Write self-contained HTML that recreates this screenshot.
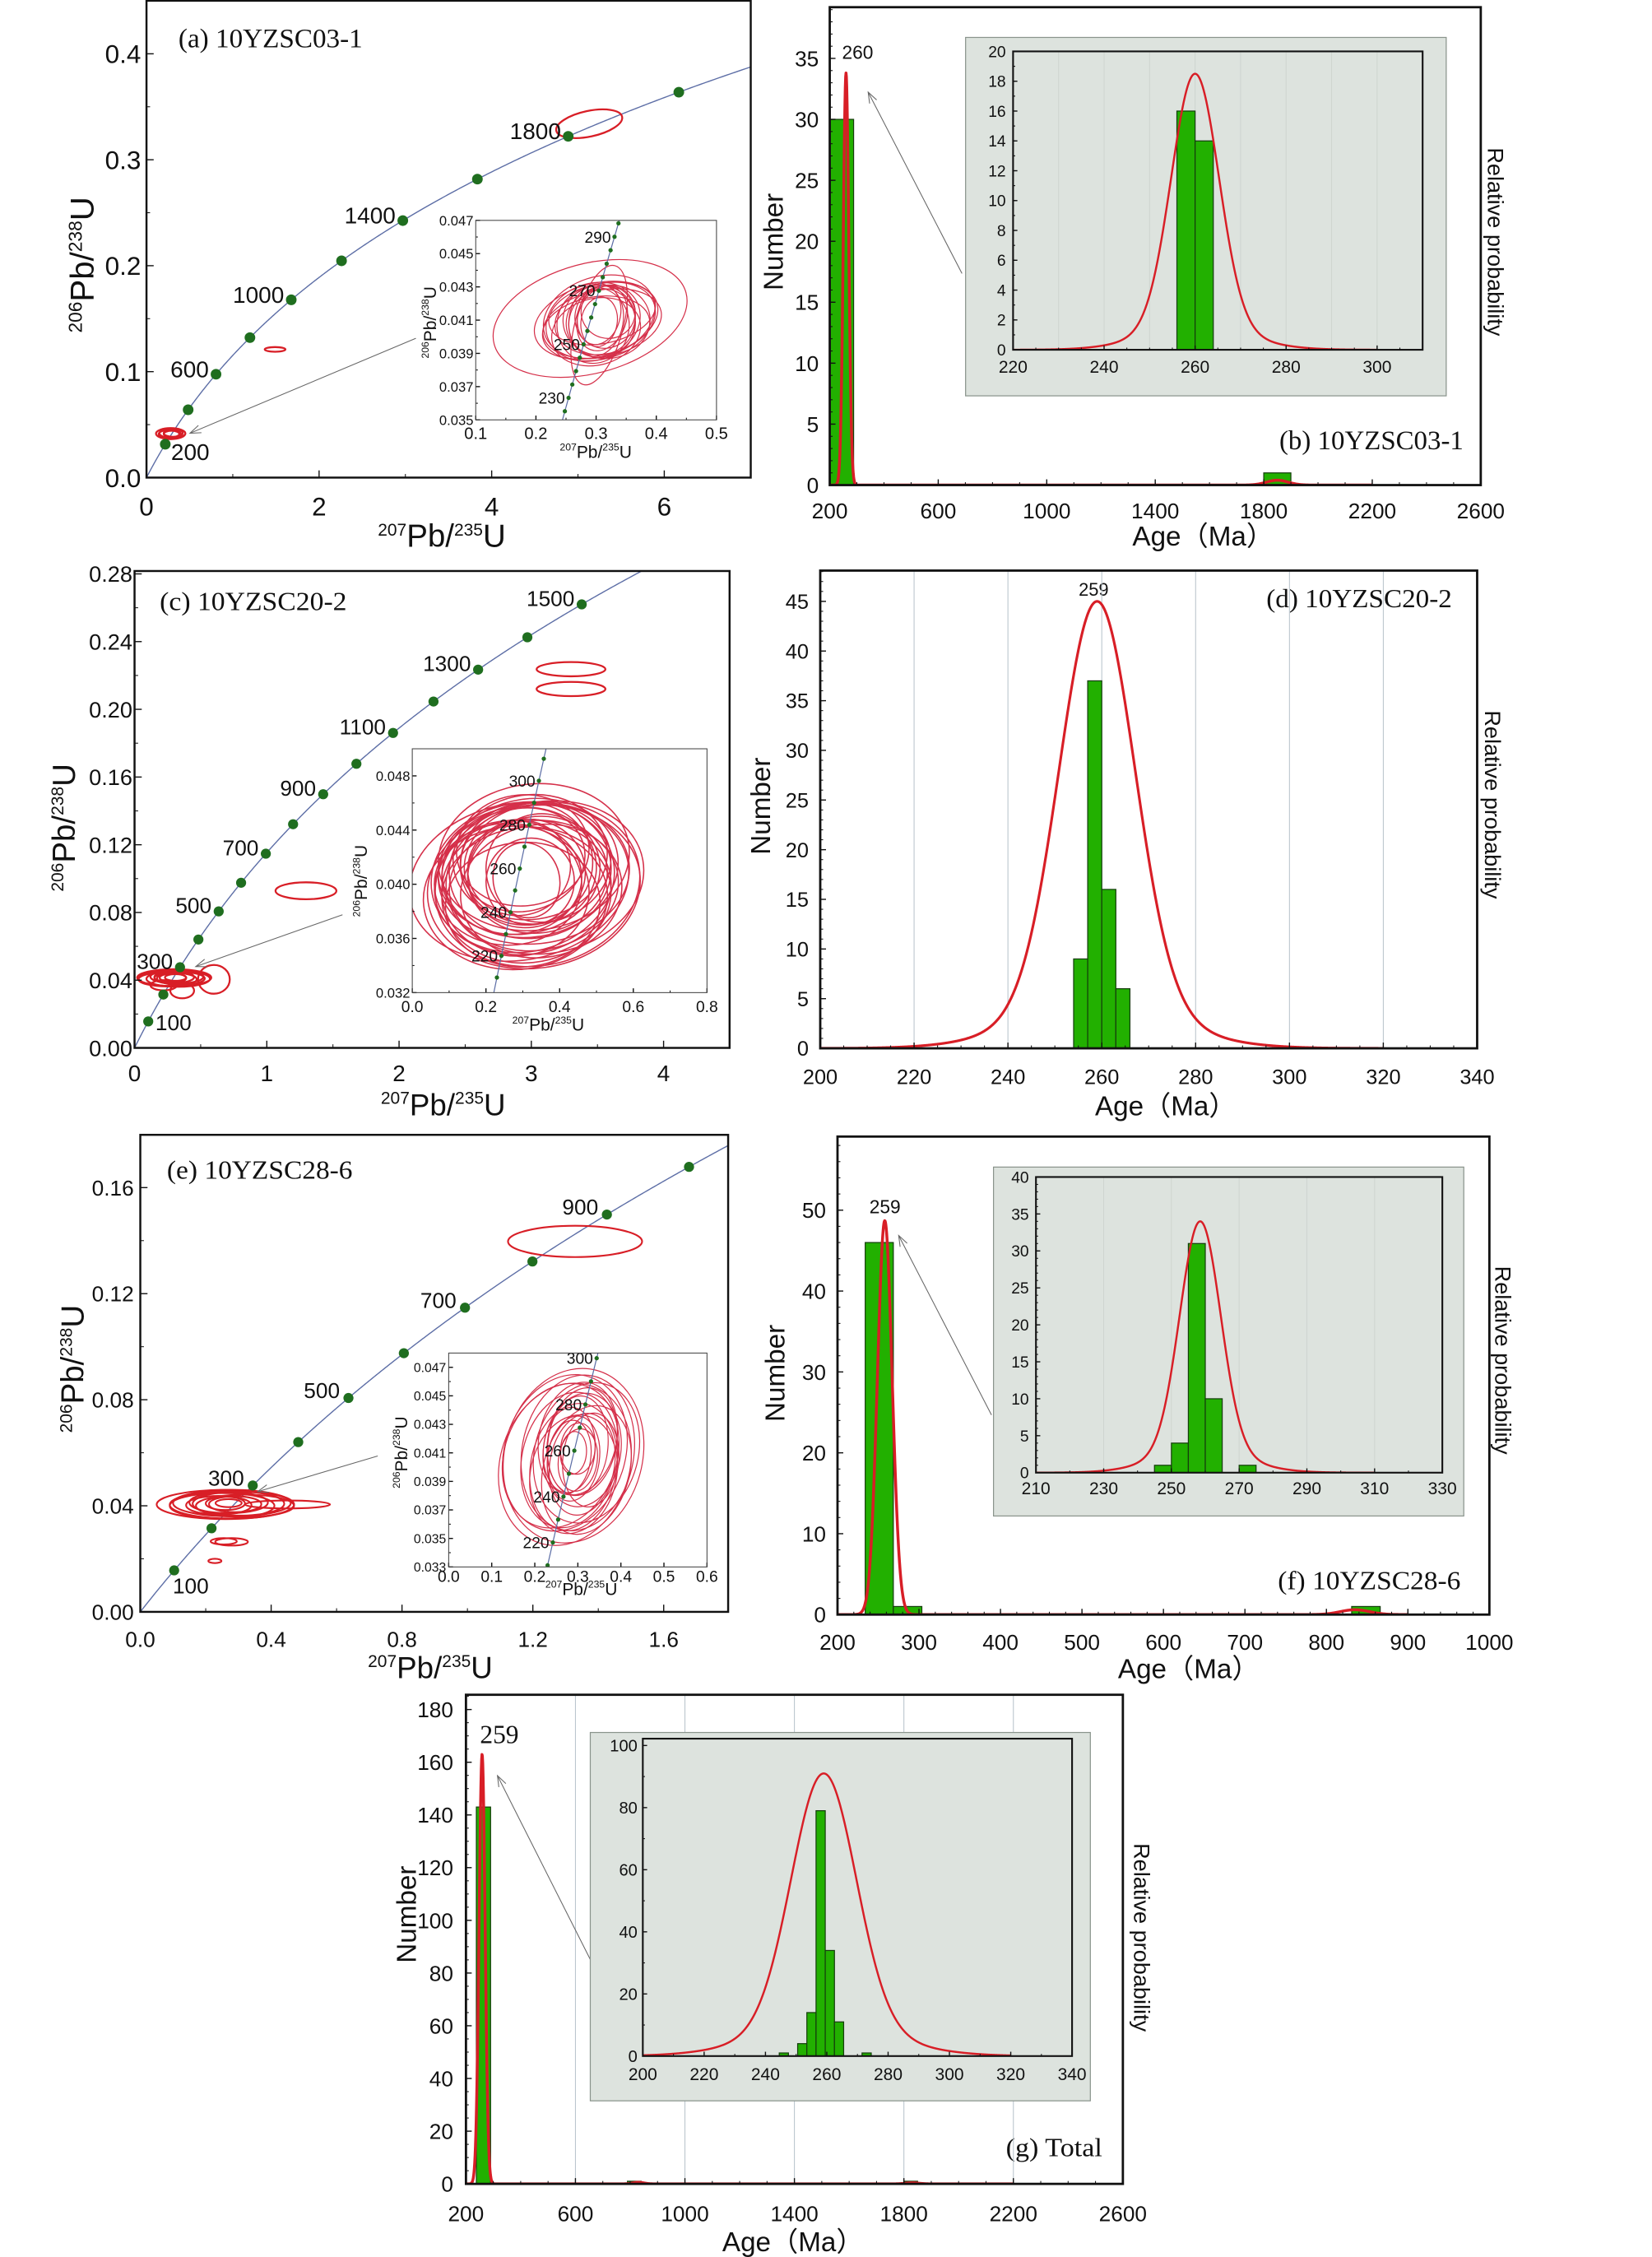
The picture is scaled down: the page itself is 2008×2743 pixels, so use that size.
<!DOCTYPE html>
<html><head><meta charset="utf-8">
<style>
html,body{margin:0;padding:0;background:#fff;}
svg{display:block;}
text{font-family:"Liberation Sans",sans-serif;fill:#111;}
.serif{font-family:"Liberation Serif",serif;}
</style></head>
<body>
<svg id="fig" xmlns="http://www.w3.org/2000/svg" width="2008" height="2743" viewBox="0 0 1148 1568" preserveAspectRatio="none">
<rect x="0" y="0" width="1148" height="1568" fill="#fff"/>
<g id="static-text">
<text class="serif" x="124" y="33" font-size="19" textLength="128" lengthAdjust="spacingAndGlyphs">(a) 10YZSC03-1</text>
<text x="307" y="380" font-size="22" text-anchor="middle"><tspan font-size="12" dy="-8">207</tspan><tspan dy="8">Pb/</tspan><tspan font-size="12" dy="-8">235</tspan><tspan dy="8">U</tspan></text>
<text x="65" y="184" font-size="23" text-anchor="middle" transform="rotate(-90 65 184)"><tspan font-size="13" dy="-8">206</tspan><tspan dy="8">Pb/</tspan><tspan font-size="13" dy="-8">238</tspan><tspan dy="8">U</tspan></text>
<text x="414" y="318" font-size="12" text-anchor="middle"><tspan font-size="7" dy="-5">207</tspan><tspan dy="5">Pb/</tspan><tspan font-size="7" dy="-5">235</tspan><tspan dy="5">U</tspan></text>
<text x="303" y="224" font-size="12" text-anchor="middle" transform="rotate(-90 303 224)"><tspan font-size="7" dy="-5">206</tspan><tspan dy="5">Pb/</tspan><tspan font-size="7" dy="-5">238</tspan><tspan dy="5">U</tspan></text>
<text class="serif" x="889" y="312" font-size="19" textLength="128" lengthAdjust="spacingAndGlyphs">(b) 10YZSC03-1</text>
<text x="836" y="379" font-size="19" text-anchor="middle">Age（Ma）</text>
<text x="544" y="168" font-size="19" text-anchor="middle" transform="rotate(-90 544 168)">Number</text>
<text x="1034" y="168" font-size="15.5" text-anchor="middle" transform="rotate(90 1034 168)">Relative probability</text>
<text x="596" y="41" font-size="13" text-anchor="middle">260</text>
<text x="843" y="271" font-size="11.5" text-anchor="middle">Age（Ma）</text>
<text x="684" y="134" font-size="11.5" text-anchor="middle" transform="rotate(-90 684 134)">Number</text>
<text x="993" y="144" font-size="11.5" text-anchor="middle" transform="rotate(90 993 144)">Relative probability</text>
<text x="832" y="50" font-size="13" text-anchor="middle">260</text>
<text class="serif" x="111" y="424" font-size="18" textLength="130" lengthAdjust="spacingAndGlyphs">(c) 10YZSC20-2</text>
<text x="308" y="775" font-size="21" text-anchor="middle"><tspan font-size="12" dy="-8">207</tspan><tspan dy="8">Pb/</tspan><tspan font-size="12" dy="-8">235</tspan><tspan dy="8">U</tspan></text>
<text x="52" y="575" font-size="22" text-anchor="middle" transform="rotate(-90 52 575)"><tspan font-size="12" dy="-8">206</tspan><tspan dy="8">Pb/</tspan><tspan font-size="12" dy="-8">238</tspan><tspan dy="8">U</tspan></text>
<text x="381" y="716" font-size="12" text-anchor="middle"><tspan font-size="7" dy="-5">207</tspan><tspan dy="5">Pb/</tspan><tspan font-size="7" dy="-5">235</tspan><tspan dy="5">U</tspan></text>
<text x="255" y="612" font-size="12" text-anchor="middle" transform="rotate(-90 255 612)"><tspan font-size="7" dy="-5">206</tspan><tspan dy="5">Pb/</tspan><tspan font-size="7" dy="-5">238</tspan><tspan dy="5">U</tspan></text>
<text class="serif" x="880" y="422" font-size="18" textLength="129" lengthAdjust="spacingAndGlyphs">(d) 10YZSC20-2</text>
<text x="810" y="775" font-size="19" text-anchor="middle">Age（Ma）</text>
<text x="535" y="560" font-size="19" text-anchor="middle" transform="rotate(-90 535 560)">Number</text>
<text x="1032" y="559" font-size="15.5" text-anchor="middle" transform="rotate(90 1032 559)">Relative probability</text>
<text x="760" y="414" font-size="12.5" text-anchor="middle">259</text>
<text class="serif" x="116" y="819" font-size="18" textLength="129" lengthAdjust="spacingAndGlyphs">(e) 10YZSC28-6</text>
<text x="299" y="1166" font-size="21" text-anchor="middle"><tspan font-size="12" dy="-8">207</tspan><tspan dy="8">Pb/</tspan><tspan font-size="12" dy="-8">235</tspan><tspan dy="8">U</tspan></text>
<text x="58" y="951" font-size="22" text-anchor="middle" transform="rotate(-90 58 951)"><tspan font-size="12" dy="-8">206</tspan><tspan dy="8">Pb/</tspan><tspan font-size="12" dy="-8">238</tspan><tspan dy="8">U</tspan></text>
<text x="404" y="1108" font-size="12" text-anchor="middle"><tspan font-size="7" dy="-5">207</tspan><tspan dy="5">Pb/</tspan><tspan font-size="7" dy="-5">235</tspan><tspan dy="5">U</tspan></text>
<text x="283" y="1009" font-size="12" text-anchor="middle" transform="rotate(-90 283 1009)"><tspan font-size="7" dy="-5">206</tspan><tspan dy="5">Pb/</tspan><tspan font-size="7" dy="-5">238</tspan><tspan dy="5">U</tspan></text>
<text class="serif" x="888" y="1104" font-size="18" textLength="127" lengthAdjust="spacingAndGlyphs">(f) 10YZSC28-6</text>
<text x="826" y="1166" font-size="19" text-anchor="middle">Age（Ma）</text>
<text x="545" y="954" font-size="19" text-anchor="middle" transform="rotate(-90 545 954)">Number</text>
<text x="1039" y="945" font-size="15.5" text-anchor="middle" transform="rotate(90 1039 945)">Relative probability</text>
<text x="615" y="843" font-size="13" text-anchor="middle">259</text>
<text x="861" y="1049" font-size="11.5" text-anchor="middle">Age（Ma）</text>
<text x="700" y="926" font-size="11.5" text-anchor="middle" transform="rotate(-90 700 926)">Number</text>
<text x="1004" y="922" font-size="11.5" text-anchor="middle" transform="rotate(90 1004 922)">Relative probability</text>
<text x="833" y="845" font-size="13" text-anchor="middle">259</text>
<text class="serif" x="699" y="1498" font-size="18" textLength="67" lengthAdjust="spacingAndGlyphs">(g) Total</text>
<text x="551" y="1564" font-size="19" text-anchor="middle">Age（Ma）</text>
<text x="289" y="1330" font-size="19" text-anchor="middle" transform="rotate(-90 289 1330)">Number</text>
<text x="788" y="1346" font-size="15.5" text-anchor="middle" transform="rotate(90 788 1346)">Relative probability</text>
<text class="serif" x="347" y="1211" font-size="18" text-anchor="middle">259</text>
<text x="586" y="1457" font-size="11.5" text-anchor="middle">Age（Ma）</text>
<text x="420" y="1323" font-size="11.5" text-anchor="middle" transform="rotate(-90 420 1323)">Number</text>
<text x="747" y="1323" font-size="11.5" text-anchor="middle" transform="rotate(90 747 1323)">Relative probability</text>
<text class="serif" x="573" y="1227" font-size="18" text-anchor="middle">259</text>
</g>
</svg>
<script>
const L238 = 1.55125e-4, L235 = 9.8485e-4;

const aDotAges = [200,400,600,800,1000,1200,1400,1600,1800,2000];
const aLabelAges = ['200','600','1000','1400','1800'];
const aXTicks = ['0','2','4','6'];
const aYTicks = ['0.0','0.1','0.2','0.3','0.4'];
const aEllCx = [5.13,1.49,0.28,0.30,0.27,0.31,0.29];
const aEllCy = [0.334,0.121,0.0415,0.0418,0.041,0.042,0.0412];
const aEllRx = [0.39,0.12,0.17,0.15,0.13,0.11,0.09];
const aEllRy = [0.0121,0.0022,0.0052,0.0045,0.004,0.0035,0.003];
const aEllRot = [-12,0,0,0,0,0,0];
const aInDotAges = [225,230,235,240,245,250,255,260,265,270,275,280,285,290,295];
const aInLabelAges = ['230','250','270','290'];
const aInXTicks = ['0.1','0.2','0.3','0.4','0.5'];
const aInYTicks = ['0.035','0.037','0.039','0.041','0.043','0.045','0.047'];
const aInCx = [0.29,0.305,0.30,0.31,0.305,0.30,0.315,0.295,0.31,0.30,0.32,0.305,0.305,0.31,0.30,0.315,0.31,0.305,0.295,0.32];
const aInCy = [0.0411,0.0407,0.0410,0.0408,0.0412,0.0405,0.0411,0.0409,0.0414,0.0403,0.0409,0.0410,0.0413,0.0411,0.0410,0.0412,0.0408,0.0409,0.0407,0.0415];
const aInRx = [0.165,0.04,0.105,0.10,0.095,0.09,0.085,0.08,0.09,0.075,0.07,0.06,0.035,0.04,0.045,0.05,0.055,0.03,0.06,0.045];
const aInRy = [0.0033,0.0037,0.0022,0.0020,0.0024,0.0019,0.0021,0.0023,0.0018,0.0020,0.0022,0.0021,0.0018,0.0020,0.0022,0.0019,0.0021,0.0015,0.0023,0.0016];
const aInRot = [-15,15,-15,-12,-18,-10,-15,-20,-12,-15,-10,-5,15,20,10,15,20,10,5,15];

const bXTicks = ['200','600','1000','1400','1800','2200','2600'];
const bYTicks = ['0','5','10','15','20','25','30','35'];
const bBinStart = [200,1800];
const bBinEnd = [288,1900];
const bCounts = [30,1];
const bPeakAge = [260,1850];
const bPeakAmp = [33.8,0.4];
const bPeakSig = [10,40];
const bInXTicks = ['220','240','260','280','300'];
const bInYTicks = ['0','2','4','6','8','10','12','14','16','18','20'];
const bInBinStart = [256,260];
const bInBinEnd = [260,264];
const bInCounts = [16,14];
const bInPeakAge = [260,260];
const bInPeakAmp = [17,1.5];
const bInPeakSig = [5.2,11];

const cDotAges = [100,200,300,400,500,600,700,800,900,1000,1100,1200,1300,1400,1500];
const cLabelAges = ['100','300','500','700','900','1100','1300','1500'];
const cXTicks = ['0','1','2','3','4'];
const cYTicks = ['0.00','0.04','0.08','0.12','0.16','0.20','0.24','0.28'];
const cEllCx = [0.30,0.28,0.32,0.25,0.35,0.30,0.27,0.33,0.29,0.31,0.60,0.36,0.22,1.296,3.30,3.30];
const cEllCy = [0.0415,0.041,0.042,0.0405,0.041,0.0418,0.0412,0.0408,0.0414,0.0416,0.0405,0.0338,0.037,0.0928,0.2237,0.212];
const cEllRx = [0.28,0.25,0.20,0.22,0.18,0.15,0.12,0.24,0.10,0.08,0.12,0.09,0.10,0.23,0.26,0.26];
const cEllRy = [0.005,0.0045,0.004,0.0042,0.0038,0.0035,0.003,0.0047,0.0025,0.002,0.0085,0.0045,0.003,0.005,0.0042,0.0042];
const cInDotAges = [210,220,230,240,250,260,270,280,290,300,310];
const cInLabelAges = ['220','240','260','280','300'];
const cInXTicks = ['0.0','0.2','0.4','0.6','0.8'];
const cInYTicks = ['0.032','0.036','0.040','0.044','0.048'];
const cInCx = [0.30,0.32,0.34,0.28,0.31,0.33,0.29,0.35,0.30,0.32,0.27,0.36,0.31,0.30,0.33,0.29,0.34,0.32,0.28,0.31,0.30,0.35,0.33,0.26,0.32,0.30,0.31,0.34,0.29,0.33];
const cInCy = [0.0405,0.0410,0.0400,0.0395,0.0415,0.0408,0.0402,0.0412,0.0398,0.0420,0.0405,0.0405,0.0392,0.0418,0.0398,0.0410,0.0415,0.0402,0.0390,0.0408,0.0425,0.0395,0.0420,0.0400,0.0412,0.0385,0.0403,0.0407,0.0412,0.0399];
const cInRx = [0.25,0.22,0.28,0.20,0.18,0.26,0.30,0.15,0.24,0.21,0.19,0.27,0.23,0.17,0.29,0.22,0.20,0.12,0.25,0.16,0.18,0.22,0.26,0.20,0.24,0.21,0.09,0.19,0.14,0.23];
const cInRy = [0.0055,0.0050,0.0060,0.0048,0.0045,0.0052,0.0058,0.0040,0.0050,0.0046,0.0042,0.0056,0.0050,0.0038,0.0060,0.0047,0.0044,0.0032,0.0053,0.0040,0.0041,0.0049,0.0054,0.0045,0.0051,0.0046,0.0028,0.0043,0.0035,0.0048];
const cInRot = [-10,-5,-12,0,-8,-6,-10,-15,-4,-8,0,-10,-6,-12,-8,-5,-10,-20,-3,-8,-5,-10,-7,0,-9,-4,-15,-8,-12,-6];

const dXTicks = ['200','220','240','260','280','300','320','340'];
const dYTicks = ['0','5','10','15','20','25','30','35','40','45'];
const dBinStart = [254,257,260,263];
const dBinEnd = [257,260,263,266];
const dCounts = [9,37,16,6];
const dPeakAge = [259,259];
const dPeakAmp = [41,4];
const dPeakSig = [8,16];

const eDotAges = [100,200,300,400,500,600,700,800,900,1000];
const eLabelAges = ['100','300','500','700','900'];
const eXTicks = ['0.0','0.4','0.8','1.2','1.6'];
const eYTicks = ['0.00','0.04','0.08','0.12','0.16'];
const eEllCx = [0.26,0.28,0.25,0.30,0.27,0.24,0.29,0.26,0.28,0.45,0.32,0.27,1.329,0.279,0.255,0.228];
const eEllCy = [0.0405,0.041,0.040,0.0408,0.0412,0.0402,0.0406,0.0409,0.0404,0.0405,0.040,0.041,0.1397,0.0264,0.0266,0.0192];
const eEllRx = [0.21,0.18,0.16,0.14,0.12,0.10,0.08,0.06,0.19,0.13,0.15,0.04,0.205,0.05,0.04,0.02];
const eEllRy = [0.0055,0.005,0.0048,0.0045,0.004,0.0035,0.003,0.0025,0.0052,0.0015,0.0042,0.0015,0.0059,0.0014,0.0012,0.0008];
const eInDotAges = [210,220,230,240,250,260,270,280,290,300];
const eInLabelAges = ['220','240','260','280','300'];
const eInXTicks = ['0.0','0.1','0.2','0.3','0.4','0.5','0.6'];
const eInYTicks = ['0.033','0.035','0.037','0.039','0.041','0.043','0.045','0.047'];
const eInCx = [0.29,0.30,0.28,0.31,0.27,0.30,0.29,0.32,0.28,0.30,0.31,0.29,0.26,0.33,0.30,0.28,0.31,0.29,0.30,0.32,0.27,0.29];
const eInCy = [0.0408,0.0410,0.0405,0.0412,0.0402,0.0415,0.0400,0.0410,0.0412,0.0405,0.0418,0.0395,0.0408,0.0405,0.0413,0.0407,0.0402,0.0410,0.0420,0.0398,0.0410,0.0406];
const eInRx = [0.16,0.13,0.11,0.09,0.15,0.07,0.10,0.12,0.06,0.045,0.08,0.10,0.13,0.065,0.04,0.05,0.075,0.03,0.09,0.10,0.14,0.06];
const eInRy = [0.0062,0.0055,0.0048,0.0040,0.0058,0.0035,0.0045,0.0050,0.0030,0.0022,0.0038,0.0042,0.0052,0.0033,0.0018,0.0026,0.0036,0.0015,0.0040,0.0046,0.0056,0.0030];
const eInRot = [15,10,12,8,18,5,10,15,5,8,10,12,20,5,5,8,10,5,12,15,18,8];

const fXTicks = ['200','300','400','500','600','700','800','900','1000'];
const fYTicks = ['0','10','20','30','40','50'];
const fBinStart = [234,268.5,831];
const fBinEnd = [268.5,303.5,866];
const fCounts = [46,1,1];
const fPeakAge = [258,835];
const fPeakAmp = [48.7,0.6];
const fPeakSig = [9,18];
const fInXTicks = ['210','230','250','270','290','310','330'];
const fInYTicks = ['0','5','10','15','20','25','30','35','40'];
const fInBinStart = [245,250,255,260,270];
const fInBinEnd = [250,255,260,265,275];
const fInCounts = [1,4,31,10,1];
const fInPeakAge = [258.5,258.5];
const fInPeakAmp = [31,3];
const fInPeakSig = [6,13];

const gXTicks = ['200','600','1000','1400','1800','2200','2600'];
const gYTicks = ['0','20','40','60','80','100','120','140','160','180'];
const gBinStart = [238,790,1800];
const gBinEnd = [290,840,1850];
const gCounts = [143,1,1];
const gPeakAge = [259,830,1830];
const gPeakAmp = [163,0.6,0.4];
const gPeakSig = [11,20,25];
const gInXTicks = ['200','220','240','260','280','300','320','340'];
const gInYTicks = ['0','20','40','60','80','100'];
const gInBinStart = [244.5,250.5,253.5,256.5,259.5,262.5,271.5];
const gInBinEnd = [247.5,253.5,256.5,259.5,262.5,265.5,274.5];
const gInCounts = [1,4,14,79,34,11,1];
const gInPeakAge = [259,259];
const gInPeakAmp = [82,9];
const gInPeakSig = [10.5,22];

const NS = 'http://www.w3.org/2000/svg';
const svg = document.getElementById('fig');
let clipN = 0;
function el(tag, attrs, parent){
  const e = document.createElementNS(NS, tag);
  for (const k in attrs) e.setAttribute(k, attrs[k]);
  (parent || svg).appendChild(e);
  return e;
}
function lin(p0, p1, v0, v1){ return v => p0 + (v - v0) / (v1 - v0) * (p1 - p0); }
function makeClip(box){
  clipN++;
  const cp = el('clipPath', {id: 'clip' + clipN});
  el('rect', {x: box[0], y: box[1], width: box[2]-box[0], height: box[3]-box[1]}, cp);
  return 'url(#clip' + clipN + ')';
}
function frame(g, box, sw){
  const r = el('rect', {x: box[0], y: box[1], width: box[2]-box[0], height: box[3]-box[1], fill: 'none', stroke: '#111', 'stroke-width': sw}, g);
  
  
}
function ticks(g, X, Y, box, o){
  o.xt.forEach(s => {
    const v = Number(s), x = X(v);
    const t = el('line', {x1: x, x2: x, y1: box[3], y2: box[3] - o.len, stroke: '#111', 'stroke-width': 0.8}, g);
    
    
    const tx = el('text', {x: x, y: o.xly, 'font-size': o.fs, 'text-anchor': 'middle'}, g);
    tx.textContent = s;
    
    
  });
  o.xm.forEach(v => {
    const x = X(v);
    const t = el('line', {x1: x, x2: x, y1: box[3], y2: box[3] - o.len/2, stroke: '#111', 'stroke-width': 0.6}, g);
    
    
  });
  o.yt.forEach(s => {
    const v = Number(s), y = Y(v);
    const t = el('line', {x1: box[0], x2: box[0] + o.len, y1: y, y2: y, stroke: '#111', 'stroke-width': 0.8}, g);
    
    
    const tx = el('text', {x: o.yrx, y: y + o.fsy*0.36, 'font-size': o.fsy, 'text-anchor': 'end'}, g);
    tx.textContent = s;
    
    
  });
  o.ym.forEach(v => {
    const y = Y(v);
    const t = el('line', {x1: box[0], x2: box[0] + o.len/2, y1: y, y2: y, stroke: '#111', 'stroke-width': 0.6}, g);
    
    
  });
}
function range(a, b, s){ const r = []; for (let v = a; v <= b + 1e-9; v += s) r.push(+v.toFixed(6)); return r; }
function ellipses(g, X, Y, cx, cy, rx, ry, rot, color, sw, name){
  cx.forEach((c, i) => {
    const x = X(c), y = Y(cy[i]);
    const e = el('ellipse', {cx: x, cy: y, rx: Math.abs(X(c + rx[i]) - x), ry: Math.abs(Y(cy[i] + ry[i]) - y),
      transform: 'rotate(' + (rot ? rot[i] : 0) + ' ' + x + ' ' + y + ')', fill: 'none', stroke: color, 'stroke-width': sw}, g);
    
    
  });
}
function concordia(g, X, Y, tmax, sw){
  let d = '';
  for (let t = 0; t <= tmax; t += tmax/600){
    d += (t === 0 ? 'M' : 'L') + X(Math.exp(L235*t)-1).toFixed(2) + ',' + Y(Math.exp(L238*t)-1).toFixed(2);
  }
  const p = el('path', {d: d, fill: 'none', stroke: '#5d6ea6', 'stroke-width': sw}, g);
  
  
}
function dots(g, X, Y, ages, r, name){
  ages.forEach(t => {
    const c = el('circle', {cx: X(Math.exp(L235*t)-1), cy: Y(Math.exp(L238*t)-1), r: r, fill: '#1f6e1f'}, g);
    
    
  });
}
function ageLabels(g, X, Y, labels, fs, mode){
  labels.forEach((s, i) => {
    const t = Number(s);
    const x = X(Math.exp(L235*t)-1), y = Y(Math.exp(L238*t)-1);
    let a;
    if (i === 0 && mode.first){
      a = el('text', {x: x + mode.first[0], y: y + mode.first[1], 'font-size': fs, 'text-anchor': 'start'}, g);
    } else {
      a = el('text', {x: x - mode.dx, y: y + mode.dy, 'font-size': fs, 'text-anchor': 'end'}, g);
    }
    a.textContent = s;
    
    
  });
}
function arrow(g, x1, y1, x2, y2){
  const l = el('line', {x1: x1, y1: y1, x2: x2, y2: y2, stroke: '#666', 'stroke-width': 0.6}, g);
  
  
  const ang = Math.atan2(y2 - y1, x2 - x1), L = 8;
  const p = el('polyline', {points: (x2 - L*Math.cos(ang - 0.35)) + ',' + (y2 - L*Math.sin(ang - 0.35)) + ' ' + x2 + ',' + y2 + ' ' + (x2 - L*Math.cos(ang + 0.35)) + ',' + (y2 - L*Math.sin(ang + 0.35)), fill: 'none', stroke: '#666', 'stroke-width': 0.6}, g);
  
  
}
function bars(g, X, Y, s, e, c){
  s.forEach((v, i) => {
    const x0 = X(v), x1 = X(e[i]), y = Y(c[i]);
    const r = el('rect', {x: x0, y: y, width: x1 - x0, height: Y(0) - y, fill: '#22b000', stroke: '#153d0c', 'stroke-width': 0.7}, g);
    
    
  });
}
function probCurve(g, X, Y, ages, amps, sigs, t0, t1, sw){
  let d = '';
  const n = 1500;
  for (let k = 0; k <= n; k++){
    const t = t0 + (t1 - t0) * k / n;
    let v = 0;
    ages.forEach((a, i) => { v += amps[i] * Math.exp(-0.5 * Math.pow((t - a) / sigs[i], 2)); });
    d += (k ? 'L' : 'M') + X(t).toFixed(2) + ',' + Y(v).toFixed(2);
  }
  const p = el('path', {d: d, fill: 'none', stroke: '#d81e26', 'stroke-width': sw, 'stroke-linejoin': 'round'}, g);
  
  
}
function grid(g, X, box, vals, color){
  vals.forEach(v => {
    const l = el('line', {x1: X(v), x2: X(v), y1: box[1], y2: box[3], stroke: color, 'stroke-width': 0.6}, g);
    
    
  });
}
function group(name){
  const g = el('g', {});
  
  
  return g;
}

(function(){
  const g = group('panel-a-concordia');
  const box = [101.8, 0.5, 521.7, 331.8];
  const X = lin(101.8, 521.7, 0, 7.002), Y = lin(331.8, 0.5, 0, 0.4501);
  const gc = el('g', {'clip-path': makeClip(box)}, g);
  concordia(gc, X, Y, 2400, 0.8);
  ellipses(gc, X, Y, aEllCx, aEllCy, aEllRx, aEllRy, aEllRot, '#d81e26', 1.3, 'data-ellipse');
  dots(gc, X, Y, aDotAges, 3.7, 'concordia-age-dot');
  ageLabels(g, X, Y, aLabelAges, 16, {dx: 5, dy: 2, first: [4, 11]});
  arrow(g, 289, 235, 132, 301);
  ticks(g, X, Y, box, {xt: aXTicks, xm: [1,3,5], yt: aYTicks, ym: [0.05,0.15,0.25,0.35], len: 5, fs: 18, fsy: 18, xly: 358, yrx: 98});
  frame(g, box, 1.4);
  const ib = [330.6, 153.1, 497.9, 291.7];
  const IX = lin(330.6, 497.9, 0.1, 0.5), IY = lin(291.7, 153.1, 0.035, 0.047);
  const bg = el('rect', {x: ib[0], y: ib[1], width: ib[2]-ib[0], height: ib[3]-ib[1], fill: '#fff'}, g);
  
  
  const ic = el('g', {'clip-path': makeClip(ib)}, g);
  ellipses(ic, IX, IY, aInCx, aInCy, aInRx, aInRy, aInRot, '#d5304a', 0.7, 'inset-data-ellipse');
  concordia(ic, IX, IY, 320, 0.7);
  dots(ic, IX, IY, aInDotAges, 1.5, 'inset-age-dot');
  ageLabels(g, IX, IY, aInLabelAges, 11, {dx: 2.5, dy: 4});
  ticks(g, IX, IY, ib, {xt: aInXTicks, xm: [0.15,0.25,0.35,0.45], yt: aInYTicks, ym: [0.036,0.038,0.040,0.042,0.044,0.046], len: 3, fs: 11.5, fsy: 9.5, xly: 305, yrx: 329});
  const f = el('rect', {x: ib[0], y: ib[1], width: ib[2]-ib[0], height: ib[3]-ib[1], fill: 'none', stroke: '#444', 'stroke-width': 0.6}, g);
  
  
})();

(function(){
  const g = group('panel-c-concordia');
  const box = [93.5, 396.7, 507, 728];
  const X = lin(93.5, 507, 0, 4.499), Y = lin(728, 396.7, 0, 0.2817);
  const gc = el('g', {'clip-path': makeClip(box)}, g);
  concordia(gc, X, Y, 1800, 0.8);
  ellipses(gc, X, Y, cEllCx, cEllCy, cEllRx, cEllRy, null, '#d81e26', 1.3, 'data-ellipse');
  dots(gc, X, Y, cDotAges, 3.5, 'concordia-age-dot');
  ageLabels(g, X, Y, cLabelAges, 15, {dx: 5, dy: 1, first: [5, 6]});
  arrow(g, 238, 635.5, 136, 671.5);
  ticks(g, X, Y, box, {xt: cXTicks, xm: [0.5,1.5,2.5,3.5], yt: cYTicks, ym: [0.02,0.06,0.10,0.14,0.18,0.22,0.26], len: 5, fs: 16, fsy: 15.5, xly: 751, yrx: 92});
  frame(g, box, 1.4);
  const ib = [286.5, 520.2, 491.3, 689.6];
  const IX = lin(286.5, 491.3, 0, 0.8), IY = lin(689.6, 520.2, 0.032, 0.0500);
  const bg = el('rect', {x: ib[0], y: ib[1], width: ib[2]-ib[0], height: ib[3]-ib[1], fill: '#fff'}, g);
  
  
  const ic = el('g', {'clip-path': makeClip(ib)}, g);
  ellipses(ic, IX, IY, cInCx, cInCy, cInRx, cInRy, cInRot, '#d5304a', 0.9, 'inset-data-ellipse');
  concordia(ic, IX, IY, 330, 0.7);
  dots(ic, IX, IY, cInDotAges, 1.5, 'inset-age-dot');
  ageLabels(g, IX, IY, cInLabelAges, 11, {dx: 2.5, dy: 4});
  ticks(g, IX, IY, ib, {xt: cInXTicks, xm: [0.1,0.3,0.5,0.7], yt: cInYTicks, ym: [0.034,0.038,0.042,0.046], len: 3, fs: 11, fsy: 9.5, xly: 703, yrx: 285});
  const f = el('rect', {x: ib[0], y: ib[1], width: ib[2]-ib[0], height: ib[3]-ib[1], fill: 'none', stroke: '#444', 'stroke-width': 0.6}, g);
  
  
})();

(function(){
  const g = group('panel-e-concordia');
  const box = [97.5, 788.4, 506, 1119.8];
  const X = lin(97.5, 506, 0, 1.797), Y = lin(1119.8, 788.4, 0, 0.1799);
  const gc = el('g', {'clip-path': makeClip(box)}, g);
  concordia(gc, X, Y, 1200, 0.8);
  ellipses(gc, X, Y, eEllCx, eEllCy, eEllRx, eEllRy, null, '#d81e26', 1.2, 'data-ellipse');
  dots(gc, X, Y, eDotAges, 3.5, 'concordia-age-dot');
  ageLabels(g, X, Y, eLabelAges, 15, {dx: 6, dy: 0, first: [-1, 16]});
  arrow(g, 262.5, 1011.5, 179, 1036.3);
  ticks(g, X, Y, box, {xt: eXTicks, xm: [0.2,0.6,1.0,1.4], yt: eYTicks, ym: [0.02,0.06,0.10,0.14], len: 5, fs: 15, fsy: 15, xly: 1144, yrx: 93});
  frame(g, box, 1.4);
  const ib = [311.8, 940, 491.3, 1088.6];
  const IX = lin(311.8, 491.3, 0, 0.6), IY = lin(1088.6, 940, 0.033, 0.048);
  const bg = el('rect', {x: ib[0], y: ib[1], width: ib[2]-ib[0], height: ib[3]-ib[1], fill: '#fff'}, g);
  
  
  const ic = el('g', {'clip-path': makeClip(ib)}, g);
  ellipses(ic, IX, IY, eInCx, eInCy, eInRx, eInRy, eInRot, '#d5304a', 0.7, 'inset-data-ellipse');
  concordia(ic, IX, IY, 320, 0.7);
  dots(ic, IX, IY, eInDotAges, 1.5, 'inset-age-dot');
  ageLabels(g, IX, IY, eInLabelAges, 11, {dx: 2.5, dy: 4});
  ticks(g, IX, IY, ib, {xt: eInXTicks, xm: [], yt: eInYTicks, ym: [0.034,0.036,0.038,0.040,0.042,0.044,0.046], len: 3, fs: 11, fsy: 9, xly: 1099, yrx: 310});
  const f = el('rect', {x: ib[0], y: ib[1], width: ib[2]-ib[0], height: ib[3]-ib[1], fill: 'none', stroke: '#444', 'stroke-width': 0.6}, g);
  
  
})();

function histPanel(name, box, xr, yr, o){
  const g = group(name);
  const X = lin(box[0], box[2], xr[0], xr[1]), Y = lin(box[3], box[1], yr[0], yr[1]);
  if (o.bg){
    const bg = el('rect', {x: o.outer[0], y: o.outer[1], width: o.outer[2]-o.outer[0], height: o.outer[3]-o.outer[1], fill: o.bg, stroke: '#8a948c', 'stroke-width': 0.7}, g);
    
    
  }
  if (o.grid) grid(g, X, box, o.grid, o.gridColor || '#b9c4cc');
  const gc = el('g', {'clip-path': makeClip([box[0], box[1]-30, box[2], box[3]])}, g);
  bars(gc, X, Y, o.bs, o.be, o.bc);
  probCurve(gc, X, Y, o.pa, o.pm, o.ps, o.t0, o.t1, o.sw);
  ticks(g, X, Y, box, o.ticks);
  frame(g, box, o.frame);
  return g;
}

(function(){
  const g = histPanel('panel-b-histogram', [576.6, 5, 1029, 337], [200, 2600], [0, 39.2], {
    bs: bBinStart, be: bBinEnd, bc: bCounts, pa: bPeakAge, pm: bPeakAmp, ps: bPeakSig, t0: 200, t1: 2200, sw: 2,
    frame: 1.6,
    ticks: {xt: bXTicks, xm: range(300, 2500, 100), yt: bYTicks, ym: range(1, 39, 1), len: 4, fs: 15, fsy: 15, xly: 360, yrx: 569}
  });
  arrow(g, 668.5, 190, 603.3, 64);
  histPanel('inset-b-histogram', [704, 35.7, 988.6, 243], [220, 310], [0, 20], {
    bg: '#dde3de', outer: [671, 26, 1005, 275], grid: range(230, 300, 10), gridColor: '#cfd5d0',
    bs: bInBinStart, be: bInBinEnd, bc: bInCounts, pa: bInPeakAge, pm: bInPeakAmp, ps: bInPeakSig, t0: 220, t1: 300, sw: 1.4,
    frame: 1.2,
    ticks: {xt: bInXTicks, xm: range(225, 310, 5), yt: bInYTicks, ym: range(1, 19, 1), len: 3, fs: 12, fsy: 11, xly: 259, yrx: 699}
  });
})();

histPanel('panel-d-histogram', [570, 396.4, 1026.5, 728.3], [200, 340], [0, 48.1], {
  grid: range(220, 320, 20),
  bs: dBinStart, be: dBinEnd, bc: dCounts, pa: dPeakAge, pm: dPeakAmp, ps: dPeakSig, t0: 200, t1: 320, sw: 1.8,
  frame: 1.6,
  ticks: {xt: dXTicks, xm: range(205, 335, 5), yt: dYTicks, ym: range(1, 48, 1), len: 4, fs: 14.5, fsy: 14.5, xly: 753, yrx: 562}
});

(function(){
  const g = histPanel('panel-f-histogram', [582, 789.6, 1035, 1121.7], [200, 1000], [0, 59.1], {
    bs: fBinStart, be: fBinEnd, bc: fCounts, pa: fPeakAge, pm: fPeakAmp, ps: fPeakSig, t0: 200, t1: 900, sw: 2,
    frame: 1.6,
    ticks: {xt: fXTicks, xm: range(220, 980, 20), yt: fYTicks, ym: range(2, 58, 2), len: 4, fs: 15, fsy: 15, xly: 1146, yrx: 574}
  });
  arrow(g, 689, 983, 624.5, 858.3);
  histPanel('inset-f-histogram', [719.9, 817.7, 1002.3, 1023.1], [210, 330], [0, 40], {
    bg: '#dde3de', outer: [690.4, 810.8, 1017.2, 1053.2], grid: range(230, 310, 20), gridColor: '#cfd5d0',
    bs: fInBinStart, be: fInBinEnd, bc: fInCounts, pa: fInPeakAge, pm: fInPeakAmp, ps: fInPeakSig, t0: 210, t1: 310, sw: 1.4,
    frame: 1.2,
    ticks: {xt: fInXTicks, xm: range(220, 320, 20), yt: fInYTicks, ym: range(1, 39, 1), len: 3, fs: 12, fsy: 11, xly: 1038, yrx: 715}
  });
})();

(function(){
  const g = histPanel('panel-g-histogram', [323.8, 1177.4, 780.3, 1517.2], [200, 2600], [0, 185.6], {
    grid: range(600, 2200, 400),
    bs: gBinStart, be: gBinEnd, bc: gCounts, pa: gPeakAge, pm: gPeakAmp, ps: gPeakSig, t0: 200, t1: 2200, sw: 2,
    frame: 1.6,
    ticks: {xt: gXTicks, xm: range(300, 2500, 100), yt: gYTicks, ym: range(5, 185, 5), len: 4, fs: 15, fsy: 15, xly: 1543, yrx: 315}
  });
  arrow(g, 410.2, 1361.3, 345.7, 1233.6);
  histPanel('inset-g-histogram', [446.7, 1207.9, 745, 1428.4], [200, 340], [0, 102.2], {
    bg: '#dde3de', outer: [410.2, 1203.6, 757.7, 1459.5],
    bs: gInBinStart, be: gInBinEnd, bc: gInCounts, pa: gInPeakAge, pm: gInPeakAmp, ps: gInPeakSig, t0: 200, t1: 320, sw: 1.4,
    frame: 1.2,
    ticks: {xt: gInXTicks, xm: range(210, 330, 20), yt: gInYTicks, ym: range(10, 90, 20), len: 3, fs: 12, fsy: 11.5, xly: 1445, yrx: 443}
  });
})();
</script>
</body></html>
